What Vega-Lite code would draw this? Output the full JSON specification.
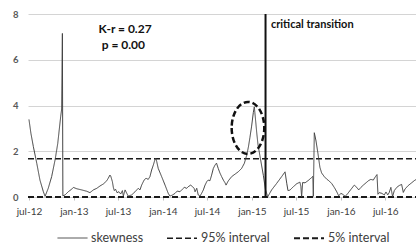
{
  "$schema": "https://vega.github.io/schema/vega-lite/v6.json",
  "width": 388,
  "height": 183,
  "autosize": {"type": "none"},
  "padding": {"left": 28, "top": 14, "right": 0, "bottom": 48},
  "background": "white",
  "config": {"view": {"stroke": null}, "font": "Lato"},
  "datasets": {
    "lines": [
      {"s":"95% interval","d":"2012-06-27","v":1.67},{"s":"95% interval","d":"2016-11-04","v":1.67},
      {"s":"5% interval","d":"2012-06-27","v":0},{"s":"5% interval","d":"2016-11-04","v":0},
      {"s":"skewness","d":"2012-07-01","v":3.39},{"s":"skewness","d":"2012-07-09","v":2.78},{"s":"skewness","d":"2012-07-19","v":2.2},
      {"s":"skewness","d":"2012-08-02","v":1.47},{"s":"skewness","d":"2012-08-15","v":0.74},{"s":"skewness","d":"2012-08-29","v":0.23},
      {"s":"skewness","d":"2012-09-05","v":0.03},{"s":"skewness","d":"2012-09-18","v":0.38},{"s":"skewness","d":"2012-10-02","v":0.89},
      {"s":"skewness","d":"2012-10-16","v":1.62},{"s":"skewness","d":"2012-10-27","v":2.34},{"s":"skewness","d":"2012-11-02","v":2.93},
      {"s":"skewness","d":"2012-11-08","v":3.51},{"s":"skewness","d":"2012-11-12","v":3.85},{"s":"skewness","d":"2012-11-15","v":7.15},
      {"s":"skewness","d":"2012-11-17","v":0.05},{"s":"skewness","d":"2012-11-26","v":0.09},{"s":"skewness","d":"2012-12-09","v":0.23},
      {"s":"skewness","d":"2012-12-23","v":0.34},{"s":"skewness","d":"2012-12-30","v":0.42},{"s":"skewness","d":"2013-01-13","v":0.36},
      {"s":"skewness","d":"2013-02-02","v":0.31},{"s":"skewness","d":"2013-02-23","v":0.25},{"s":"skewness","d":"2013-03-08","v":0.19},
      {"s":"skewness","d":"2013-03-22","v":0.31},{"s":"skewness","d":"2013-04-05","v":0.38},{"s":"skewness","d":"2013-04-18","v":0.48},
      {"s":"skewness","d":"2013-05-02","v":0.57},{"s":"skewness","d":"2013-05-16","v":0.71},{"s":"skewness","d":"2013-05-22","v":0.82},
      {"s":"skewness","d":"2013-05-29","v":0.96},{"s":"skewness","d":"2013-06-02","v":0.89},{"s":"skewness","d":"2013-06-08","v":0.67},
      {"s":"skewness","d":"2013-06-12","v":0.42},{"s":"skewness","d":"2013-06-16","v":0.28},{"s":"skewness","d":"2013-06-21","v":0.34},
      {"s":"skewness","d":"2013-06-27","v":0.19},{"s":"skewness","d":"2013-07-05","v":0.23},{"s":"skewness","d":"2013-07-12","v":0.13},
      {"s":"skewness","d":"2013-07-19","v":0.28},{"s":"skewness","d":"2013-07-23","v":0.04},{"s":"skewness","d":"2013-07-30","v":0.31},
      {"s":"skewness","d":"2013-08-06","v":0.16},{"s":"skewness","d":"2013-08-12","v":0.04},{"s":"skewness","d":"2013-08-26","v":0.09},
      {"s":"skewness","d":"2013-09-09","v":0.23},{"s":"skewness","d":"2013-09-22","v":0.38},{"s":"skewness","d":"2013-09-29","v":0.31},
      {"s":"skewness","d":"2013-10-06","v":0.52},{"s":"skewness","d":"2013-10-16","v":0.74},{"s":"skewness","d":"2013-10-24","v":0.82},
      {"s":"skewness","d":"2013-11-02","v":0.77},{"s":"skewness","d":"2013-11-09","v":0.89},{"s":"skewness","d":"2013-11-16","v":1.18},
      {"s":"skewness","d":"2013-11-23","v":1.4},{"s":"skewness","d":"2013-11-30","v":1.65},{"s":"skewness","d":"2013-12-03","v":1.7},
      {"s":"skewness","d":"2013-12-07","v":1.54},{"s":"skewness","d":"2013-12-13","v":1.25},{"s":"skewness","d":"2013-12-27","v":0.89},
      {"s":"skewness","d":"2014-01-10","v":0.52},{"s":"skewness","d":"2014-01-23","v":0.16},{"s":"skewness","d":"2014-01-30","v":0.04},
      {"s":"skewness","d":"2014-02-10","v":0.09},{"s":"skewness","d":"2014-02-20","v":0.16},{"s":"skewness","d":"2014-03-01","v":0.26},
      {"s":"skewness","d":"2014-03-12","v":0.23},{"s":"skewness","d":"2014-03-22","v":0.34},{"s":"skewness","d":"2014-03-30","v":0.42},
      {"s":"skewness","d":"2014-04-09","v":0.38},{"s":"skewness","d":"2014-04-15","v":0.45},{"s":"skewness","d":"2014-04-25","v":0.52},
      {"s":"skewness","d":"2014-05-03","v":0.45},{"s":"skewness","d":"2014-05-09","v":0.38},{"s":"skewness","d":"2014-05-13","v":0.23},
      {"s":"skewness","d":"2014-05-20","v":0.38},{"s":"skewness","d":"2014-05-26","v":0.09},{"s":"skewness","d":"2014-06-02","v":0.04},
      {"s":"skewness","d":"2014-06-09","v":0.16},{"s":"skewness","d":"2014-06-16","v":0.31},{"s":"skewness","d":"2014-06-23","v":0.52},
      {"s":"skewness","d":"2014-06-30","v":0.67},{"s":"skewness","d":"2014-07-06","v":0.74},{"s":"skewness","d":"2014-07-13","v":0.71},
      {"s":"skewness","d":"2014-07-20","v":0.96},{"s":"skewness","d":"2014-07-27","v":1.25},{"s":"skewness","d":"2014-08-03","v":1.4},
      {"s":"skewness","d":"2014-08-09","v":1.48},{"s":"skewness","d":"2014-08-16","v":1.25},{"s":"skewness","d":"2014-08-23","v":1.05},
      {"s":"skewness","d":"2014-08-30","v":0.89},{"s":"skewness","d":"2014-09-06","v":0.74},{"s":"skewness","d":"2014-09-13","v":0.62},
      {"s":"skewness","d":"2014-09-17","v":0.52},{"s":"skewness","d":"2014-09-26","v":0.7},{"s":"skewness","d":"2014-10-10","v":0.89},
      {"s":"skewness","d":"2014-10-24","v":1.0},{"s":"skewness","d":"2014-11-06","v":1.1},{"s":"skewness","d":"2014-11-20","v":1.25},
      {"s":"skewness","d":"2014-12-01","v":1.47},{"s":"skewness","d":"2014-12-11","v":1.83},{"s":"skewness","d":"2014-12-18","v":2.2},
      {"s":"skewness","d":"2014-12-24","v":2.6},{"s":"skewness","d":"2014-12-31","v":3.1},{"s":"skewness","d":"2015-01-07","v":3.7},
      {"s":"skewness","d":"2015-01-11","v":3.94},{"s":"skewness","d":"2015-01-15","v":3.5},{"s":"skewness","d":"2015-01-21","v":2.8},
      {"s":"skewness","d":"2015-01-26","v":2.3},{"s":"skewness","d":"2015-02-03","v":1.8},{"s":"skewness","d":"2015-02-17","v":0.95},
      {"s":"skewness","d":"2015-02-26","v":0.31},{"s":"skewness","d":"2015-03-07","v":0.01},{"s":"skewness","d":"2015-03-23","v":0.31},
      {"s":"skewness","d":"2015-04-13","v":0.6},{"s":"skewness","d":"2015-05-03","v":0.89},{"s":"skewness","d":"2015-05-17","v":1.1},
      {"s":"skewness","d":"2015-05-24","v":0.6},{"s":"skewness","d":"2015-05-29","v":0.28},{"s":"skewness","d":"2015-06-06","v":0.3},
      {"s":"skewness","d":"2015-06-20","v":0.45},{"s":"skewness","d":"2015-07-04","v":0.58},{"s":"skewness","d":"2015-07-17","v":0.65},
      {"s":"skewness","d":"2015-07-21","v":0.45},{"s":"skewness","d":"2015-07-24","v":0.01},{"s":"skewness","d":"2015-07-28","v":0.63},
      {"s":"skewness","d":"2015-08-07","v":0.62},{"s":"skewness","d":"2015-08-20","v":0.72},{"s":"skewness","d":"2015-09-03","v":0.85},
      {"s":"skewness","d":"2015-09-08","v":0.9},{"s":"skewness","d":"2015-09-10","v":0.03},{"s":"skewness","d":"2015-09-14","v":2.81},
      {"s":"skewness","d":"2015-09-21","v":2.45},{"s":"skewness","d":"2015-09-29","v":1.9},{"s":"skewness","d":"2015-10-07","v":1.3},
      {"s":"skewness","d":"2015-10-14","v":1.05},{"s":"skewness","d":"2015-10-25","v":0.89},{"s":"skewness","d":"2015-11-04","v":0.78},
      {"s":"skewness","d":"2015-11-14","v":0.7},{"s":"skewness","d":"2015-11-25","v":0.58},{"s":"skewness","d":"2015-12-06","v":0.4},
      {"s":"skewness","d":"2015-12-15","v":0.23},{"s":"skewness","d":"2015-12-23","v":0.05},{"s":"skewness","d":"2016-01-01","v":0.16},
      {"s":"skewness","d":"2016-01-08","v":0.12},{"s":"skewness","d":"2016-01-19","v":0.03},{"s":"skewness","d":"2016-01-29","v":0.15},
      {"s":"skewness","d":"2016-02-11","v":0.33},{"s":"skewness","d":"2016-02-25","v":0.52},{"s":"skewness","d":"2016-03-06","v":0.42},
      {"s":"skewness","d":"2016-03-14","v":0.31},{"s":"skewness","d":"2016-03-23","v":0.42},{"s":"skewness","d":"2016-04-02","v":0.52},
      {"s":"skewness","d":"2016-04-13","v":0.62},{"s":"skewness","d":"2016-04-24","v":0.72},{"s":"skewness","d":"2016-05-03","v":0.77},
      {"s":"skewness","d":"2016-05-13","v":0.74},{"s":"skewness","d":"2016-05-21","v":0.88},{"s":"skewness","d":"2016-05-28","v":0.98},
      {"s":"skewness","d":"2016-06-01","v":0.12},{"s":"skewness","d":"2016-06-06","v":0.19},{"s":"skewness","d":"2016-06-17","v":0.16},
      {"s":"skewness","d":"2016-06-27","v":0.09},{"s":"skewness","d":"2016-07-04","v":0.22},{"s":"skewness","d":"2016-07-11","v":0.09},
      {"s":"skewness","d":"2016-07-17","v":0.19},{"s":"skewness","d":"2016-07-24","v":0.42},{"s":"skewness","d":"2016-07-31","v":0.02},
      {"s":"skewness","d":"2016-08-07","v":0.28},{"s":"skewness","d":"2016-08-17","v":0.42},{"s":"skewness","d":"2016-08-27","v":0.5},
      {"s":"skewness","d":"2016-09-06","v":0.55},{"s":"skewness","d":"2016-09-13","v":0.2},{"s":"skewness","d":"2016-09-20","v":0.35},
      {"s":"skewness","d":"2016-10-03","v":0.5},{"s":"skewness","d":"2016-10-17","v":0.62},{"s":"skewness","d":"2016-10-31","v":0.74},
      {"s":"skewness","d":"2016-11-04","v":0.76}
    ],
    "transition": [{"d":"2015-02-26"}],
    "ellipse": [{"d":"2014-12-16","v":3.02}],
    "stats": [{"d":"2013-07-30","v":7.34,"t":"K-r = 0.27"},{"d":"2013-07-23","v":6.64,"t":"p = 0.00"}],
    "note": [{"d":"2015-03-20","v":7.51,"t":"critical transition"}]
  },
  "encoding": {
    "x": {
      "field": "d", "type": "temporal",
      "scale": {"type": "utc", "domain": [{"year": 2012, "month": 6, "date": 27, "utc": true}, {"year": 2016, "month": 11, "date": 4, "utc": true}]},
      "axis": {
        "title": null, "grid": false, "domain": false, "ticks": true, "tickSize": 3, "tickColor": "#bfbfbf",
        "values": [
          {"year": 2012, "month": 7, "date": 1, "utc": true}, {"year": 2013, "month": 1, "date": 1, "utc": true},
          {"year": 2013, "month": 7, "date": 1, "utc": true}, {"year": 2014, "month": 1, "date": 1, "utc": true},
          {"year": 2014, "month": 7, "date": 1, "utc": true}, {"year": 2015, "month": 1, "date": 1, "utc": true},
          {"year": 2015, "month": 7, "date": 1, "utc": true}, {"year": 2016, "month": 1, "date": 1, "utc": true},
          {"year": 2016, "month": 7, "date": 1, "utc": true}
        ],
        "labelExpr": "lower(utcFormat(datum.value, '%b-%y'))",
        "labelFontSize": 10, "labelColor": "#404040", "labelPadding": 6, "labelFlush": false, "labelOverlap": false
      }
    }
  },
  "layer": [
    {
      "data": {"name": "lines"},
      "mark": {"type": "line", "interpolate": "linear"},
      "encoding": {
        "y": {
          "field": "v", "type": "quantitative",
          "scale": {"domain": [0, 8], "nice": false},
          "axis": {"title": null, "values": [0, 2, 4, 6, 8], "grid": true, "gridColor": "#d4d4d4", "gridWidth": 1,
                   "domain": false, "ticks": false, "labelFontSize": 9.5, "labelFontWeight": "bold",
                   "labelColor": "#595959", "labelPadding": 10}
        },
        "strokeDash": {
          "field": "s", "type": "nominal",
          "scale": {"domain": ["skewness", "95% interval", "5% interval"], "range": [[1, 0], [6, 3], [6, 3]]},
          "legend": {
            "title": null, "orient": "none", "legendX": 29, "legendY": 208, "direction": "horizontal",
            "symbolType": "stroke", "symbolSize": 900, "labelFontSize": 12.5, "labelColor": "#404040",
            "labelFont": "Lato", "columnPadding": 20, "labelOffset": 3, "padding": 0
          }
        },
        "strokeWidth": {
          "field": "s", "type": "nominal",
          "scale": {"domain": ["skewness", "95% interval", "5% interval"], "range": [1, 2, 2]}
        },
        "color": {
          "field": "s", "type": "nominal",
          "scale": {"domain": ["skewness", "95% interval", "5% interval"], "range": ["#404040", "#1a1a1a", "#1a1a1a"]}
        }
      }
    },
    {
      "data": {"name": "transition"},
      "mark": {"type": "rule", "color": "#111111", "strokeWidth": 2},
      "encoding": {}
    },
    {
      "data": {"name": "ellipse"},
      "mark": {"type": "point", "shape": "M -0.627 0 A 0.627 1 0 1 0 0.627 0 A 0.627 1 0 1 0 -0.627 0 Z",
               "size": 2704, "filled": false, "stroke": "#111111", "strokeWidth": 2.5, "strokeDash": [6, 3], "opacity": 1},
      "encoding": {"y": {"field": "v", "type": "quantitative"}}
    },
    {
      "data": {"name": "stats"},
      "mark": {"type": "text", "align": "center", "baseline": "middle", "fontSize": 12, "fontWeight": "bold", "color": "#111111"},
      "encoding": {"y": {"field": "v", "type": "quantitative"}, "text": {"field": "t"}}
    },
    {
      "data": {"name": "note"},
      "mark": {"type": "text", "align": "left", "baseline": "middle", "fontSize": 11, "fontWeight": "bold", "color": "#111111"},
      "encoding": {"y": {"field": "v", "type": "quantitative"}, "text": {"field": "t"}}
    }
  ]
}
